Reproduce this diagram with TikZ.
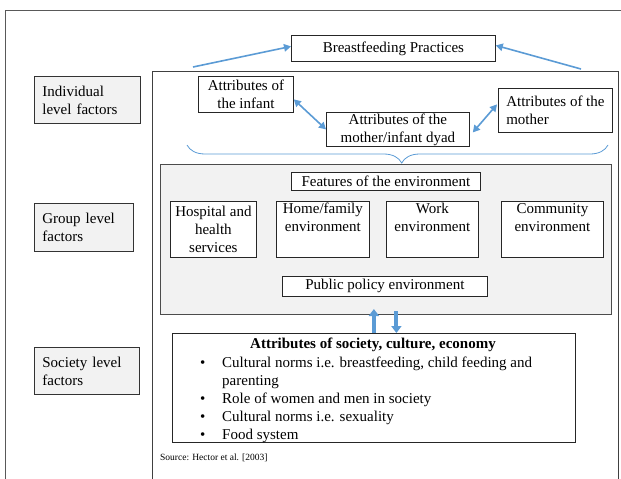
\documentclass[tikz,border=0pt]{standalone}
\usepackage{fontspec}
\setmainfont{Liberation Serif}
\usetikzlibrary{arrows.meta,decorations.pathreplacing}
\definecolor{arrowblue}{HTML}{5B9BD5}
\definecolor{panelgray}{HTML}{F2F2F2}
\definecolor{framegray}{HTML}{595959}
\begin{document}
\begin{tikzpicture}[x=1pt,y=-1pt,
  every node/.style={font=\fontsize{15}{18}\selectfont},
  box/.style={draw=black!85, line width=0.8pt, fill=white, anchor=north west, inner sep=0pt, align=center},
  lvl/.style={draw=black!80, line width=0.8pt, fill=panelgray, anchor=north west, inner xsep=8pt, inner ysep=0pt, align=left, text width=#1},
  link/.style={draw=arrowblue, line width=1.6pt, -{Triangle[length=7pt,width=7.5pt]}},
  duallink/.style={draw=arrowblue, line width=1.6pt, {Triangle[length=7pt,width=7.5pt]}-{Triangle[length=7pt,width=7.5pt]}},
  biglink/.style={draw=arrowblue, line width=4pt, -{Triangle[length=7pt,width=10pt]}},
  bracestyle/.style={draw=arrowblue, line width=0.8pt, decorate, decoration={brace, amplitude=18pt, mirror, aspect=0.51}}
]
\useasboundingbox (0,0) rectangle (621,479);

% frames
\draw[framegray, line width=0.8pt] (5,479) -- (5,10) -- (621,10);
\draw[black!75, line width=0.8pt] (152,479) -- (152,71) -- (618,71) -- (618,479);

% level labels
\node[lvl=90pt, minimum height=47pt] (ind) at (34,76) {Individual\\level factors};
\node[lvl=83pt, minimum height=48pt] (grpl) at (34,203) {Group level\\factors};
\node[lvl=89pt, minimum height=47pt] (socl) at (34,347) {Society level\\factors};

% individual level
\node[box, minimum width=204pt, minimum height=26pt] (bp) at (291,35) {Breastfeeding Practices};
\node[box, minimum width=95pt, minimum height=36pt] (inf) at (198,76) {Attributes of\\the infant};
\node[box, minimum width=143pt, minimum height=34pt] (dyad) at (326,112) {Attributes of the\\mother/infant dyad};
\node[box, minimum width=114pt, minimum height=44pt, align=left] (mot) at (498,88) {Attributes of the\\mother};

\coordinate (lstart) at (193,67);
\coordinate (rstart) at (581,69);
\draw[link] (lstart) -- ([yshift=2pt]bp.west);
\draw[link] (rstart) -- ([yshift=3pt]bp.east);
\draw[duallink] ([yshift=-5pt]inf.east) -- (dyad.west);
\draw[duallink] ([xshift=3pt,yshift=-3pt]dyad.east) -- ([yshift=6pt,xshift=-1pt]mot.west);

\coordinate (brL) at (187,145);
\coordinate (brR) at (608,145);
\draw[bracestyle] (brL) -- (brR);

% group level
\node[draw=black!70, line width=0.8pt, fill=panelgray, anchor=north west, minimum width=451pt, minimum height=150pt, inner sep=0pt] (grp) at (160,164) {};
\node[box, minimum width=189pt, minimum height=18pt] (feat) at (291,172) {Features of the environment};
\node[box, minimum width=86pt, minimum height=56pt] (hosp) at (170,201) {Hospital and\\health\\services};
\node[box, minimum width=93pt, minimum height=56pt] (home) at (276,201) {Home/family\\environment\\\strut};
\node[box, minimum width=92pt, minimum height=56pt] (work) at (386,201) {Work\\environment\\\strut};
\node[box, minimum width=102pt, minimum height=56pt] (comm) at (501,201) {Community\\environment\\\strut};
\node[box, minimum width=205pt, minimum height=20pt] (pol) at (282,276) {Public policy environment};

% society level
\node[box, minimum width=403pt, minimum height=109pt] (soc) at (172,333) {};
\node[font=\fontsize{15}{18}\selectfont\bfseries, inner sep=0pt] (soct) at (373,345) {Attributes of society, culture, economy};
\node[anchor=north west, inner sep=0pt, align=left] (socl1) at (200,357) {%
\makebox[22pt][l]{\textbullet}Cultural norms i.e. breastfeeding, child feeding and\\
\makebox[22pt][l]{}parenting\\
\makebox[22pt][l]{\textbullet}Role of women and men in society\\
\makebox[22pt][l]{\textbullet}Cultural norms i.e. sexuality\\
\makebox[22pt][l]{\textbullet}Food system};

\draw[biglink] (soc.north) -- ([yshift=24pt]soc.north);
\draw[biglink] ([xshift=22.5pt,yshift=22pt]soc.north) -- ([xshift=22.5pt]soc.north);

\node[anchor=west, inner sep=0pt, font=\fontsize{9.5}{11}\selectfont] (src) at (160,458) {Source: Hector et al. [2003]};
\end{tikzpicture}
\end{document}
